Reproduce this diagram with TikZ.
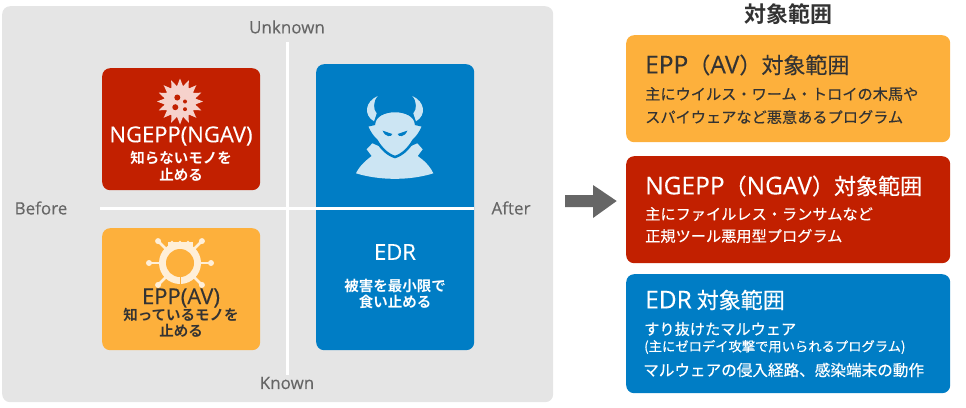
\documentclass[tikz,border=0pt]{standalone}
\usepackage{fontspec}
\setmainfont{Noto Sans CJK JP}[FakeBold=0.35]
\newfontfamily\heavyjp{Noto Sans CJK JP Bold}
\newfontfamily\latinf{Open Sans}[FakeBold=0.2]
\definecolor{panelgray}{RGB}{229, 229, 229}
\definecolor{labelgray}{RGB}{102, 102, 102}
\definecolor{inkdark}{RGB}{51, 51, 51}
\definecolor{ngeppred}{RGB}{194, 32, 0}
\definecolor{eppamber}{RGB}{253, 176, 60}
\definecolor{edrblue}{RGB}{0, 125, 197}
\definecolor{virustint}{RGB}{246, 210, 204}
\definecolor{geartint}{RGB}{255, 239, 216}
\definecolor{devilint}{RGB}{204, 229, 243}
\providecommand{\fsz}[1]{\fontsize{#1}{#1}\selectfont}
\providecommand{\lathead}[1]{{\fsz{24.5}\latinf #1}}

\begin{document}
\begin{tikzpicture}[
      x=1pt, y=-1pt,
      card/.style={rounded corners=8pt, inner sep=0pt, anchor=north west},
      axislbl/.style={font=\fsz{17}\latinf, text=labelgray, anchor=center},
      axisline/.style={draw=white, line width=3pt},
      cardhead/.style={font=\fsz{22}, anchor=west, inner sep=0pt},
      cardline/.style={font=\fsz{15.2}, anchor=west, inner sep=0pt},
      quadhead/.style={font=\fsz{22}\latinf, anchor=center, inner sep=0pt},
      quadline/.style={font=\fsz{14.5}\heavyjp, anchor=center, inner sep=0pt},
    ]
    \useasboundingbox (0,0) rectangle (966,407);
    %% grey panel
    \node[card, fill=panelgray, minimum width=551pt, minimum height=396pt] (panel) at (2,6) {};
    %% quadrant boxes
    \node[card, fill=ngeppred, minimum width=158pt, minimum height=122pt] (ngepp) at (102,68) {};
    \node[card, fill=eppamber, minimum width=158pt, minimum height=122pt] (epp) at (102,228) {};
    \node[card, fill=edrblue, minimum width=158pt, minimum height=286pt] (edr) at (316,64) {};
    %% axes
    \coordinate (axtop) at (287,42);
    \coordinate (axbot) at (287,375);
    \coordinate (axlft) at (100,208);
    \coordinate (axrgt) at (474,208);
    \draw[axisline] (axtop) -- (axbot);
    \draw[axisline] (axlft) -- (axrgt);
    \node[axislbl] (unknown) at (287,27) {Unknown};
    \node[axislbl] (known) at (287,383) {Known};
    \node[axislbl] (before) at (41,208) {Before};
    \node[axislbl] (after) at (511,208) {After};
    %% virus icon
    \begin{scope}[shift={(180,101.5)}]
      \fill[virustint] (0,0) circle (16pt);
      \foreach \a in {0,22.5,...,337.5}{
        \fill[virustint] (\a-11.25:15.5pt) -- (\a:23pt) -- (\a+11.25:15.5pt) -- cycle;
      }
      \fill[ngeppred] (-2.7,-4) circle (3pt);
      \fill[ngeppred] (5,0) circle (2pt);
      \fill[ngeppred] (-4.7,5.7) circle (3pt);
      \fill[ngeppred] (5,7.7) circle (2pt);
    \end{scope}
    %% gear icon
    \begin{scope}[shift={(180,263)}]
      \foreach \a in {0,45,135,180,225,315}{
        \draw[geartint, line width=2.5pt] (\a:18pt) -- (\a:31pt);
        \fill[geartint] (\a:31pt) circle (3pt);
      }
      \fill[geartint] (-12.5,-21) rectangle (12.5,-15);
      \fill[geartint] (0,0) circle (21pt);
      \fill[eppamber] (0,0) circle (14pt);
      \foreach \a in {-8,0,8}{
        \fill[geartint] (\a,-21) circle (1.5pt);
      }
      \fill[eppamber] (-0.5,13) rectangle (0.5,23);
    \end{scope}
    %% devil icon, drawn on a 3x grid
    \begin{scope}[shift={(310,60)}, x=0.3333pt, y=-0.3333pt]
      \fill[devilint] (138,340) .. controls (150,315) and (170,300) .. (185,288) -- (170,268) -- (187,250)
        -- (255,280) -- (322,250) -- (338,268) -- (323,288)
        .. controls (340,300) and (358,315) .. (370,340)
        .. controls (300,362) and (210,362) .. (138,340) -- cycle;
      \draw[edrblue, line width=2.5pt, fill=devilint] (170,197) -- (192,192)
        .. controls (195,140) and (315,140) .. (318,192) -- (340,197)
        .. controls (330,222) and (320,232) .. (310,242)
        .. controls (295,268) and (275,285) .. (255,291)
        .. controls (235,285) and (215,268) .. (200,242)
        .. controls (190,232) and (180,222) .. (170,197) -- cycle;
      \fill[devilint] (203,108) .. controls (165,125) and (160,165) .. (192,184) -- (200,160)
        .. controls (190,150) and (188,125) .. cycle;
      \fill[devilint] (307,108) .. controls (345,125) and (350,165) .. (318,184) -- (310,160)
        .. controls (320,150) and (322,125) .. cycle;
      \fill[edrblue] (218,212) -- (247,222) .. controls (245,232) and (225,232) .. cycle;
      \fill[edrblue] (292,212) -- (263,222) .. controls (265,232) and (285,232) .. cycle;
    \end{scope}
    %% quadrant texts
    \node[quadhead, text=white] (ngepptitle) at (181,136) {NGEPP(NGAV)};
    \node[quadline, text=white] (ngeppa) at (181,158) {知らないモノを};
    \node[quadline, text=white] (ngeppb) at (181,175) {止める};
    \node[quadhead, text=inkdark] (epptitle) at (181,298) {EPP(AV)};
    \node[quadline, text=inkdark] (eppa) at (181,315) {知っているモノを};
    \node[quadline, text=inkdark] (eppb) at (181,331) {止める};
    \node[quadhead, text=white] (edrtitle) at (395,252) {EDR};
    \node[quadline, text=white] (edra) at (395,286) {被害を最小限で};
    \node[quadline, text=white] (edrb) at (395,302) {食い止める};
    %% arrow between panel and cards
    \fill[labelgray] (565,195) -- (593,195) -- (593,185) -- (616.7,201) -- (593,218) -- (593,207) -- (565,207) -- cycle;
    %% right side cards
    \node[font=\fsz{22}\heavyjp, text=inkdark, inner sep=0pt] (scope) at (788,14) {対象範囲};
    \node[card, fill=eppamber, minimum width=324pt, minimum height=107pt] (cardepp) at (626,35) {};
    \node[card, fill=ngeppred, minimum width=324pt, minimum height=107pt] (cardngepp) at (626,156) {};
    \node[card, fill=edrblue, minimum width=324pt, minimum height=119pt] (cardedr) at (626,274) {};
    \node[cardhead, text=inkdark] (cepptitle) at (645,65) {\lathead{EPP}（\lathead{AV}）対象範囲};
    \node[cardline, text=inkdark] (ceppa) at (645,94) {主にウイルス・ワーム・トロイの木馬や};
    \node[cardline, text=inkdark] (ceppb) at (645,117) {スパイウェアなど悪意あるプログラム};
    \node[cardhead, text=white] (cngepptitle) at (645,186) {\lathead{NGEPP}（\lathead{NGAV}）対象範囲};
    \node[cardline, text=white] (cngeppa) at (645,214) {主にファイルレス・ランサムなど};
    \node[cardline, text=white] (cngeppb) at (645,236) {正規ツール悪用型プログラム};
    \node[cardhead, text=white] (cedrtitle) at (645,300) {\lathead{EDR} 対象範囲};
    \node[cardline, text=white] (cedra) at (644,329) {すり抜けたマルウェア};
    \node[cardline, font=\fsz{13.3}, text=white] (cedrb) at (644,347) {(主にゼロデイ攻撃で用いられるプログラム)};
    \node[cardline, font=\fsz{15.6}, text=white] (cedrc) at (643,370) {マルウェアの侵入経路、感染端末の動作};
    \end{tikzpicture}
\end{document}
